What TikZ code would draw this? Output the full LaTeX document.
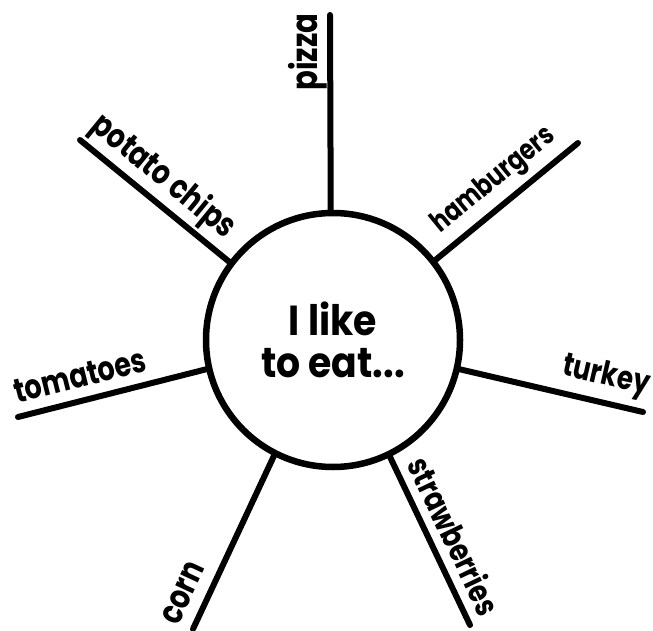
\documentclass[tikz,border=0pt]{standalone}
\usepackage{fontspec}
\setmainfont{Poppins}
\newcommand\lblfit[2]{\resizebox{#1}{!}{\scalebox{0.8}[1]{#2}}}
\begin{document}
\begin{tikzpicture}[x=1pt,y=-1pt,
  spoke/.style={line width=6pt, line cap=round},
  lbl/.style={inner sep=0pt, font=\bfseries}]
\useasboundingbox (0,0) rectangle (653,631);
\node[circle, draw, line width=6.5pt, minimum size=254pt, inner sep=0pt, align=center,
  font=\fontsize{42}{42}\selectfont\bfseries] (c) at (333,340)
  {\scalebox{0.9}[1]{I like}\\\scalebox{0.9}[1]{to eat...}};
% outer ends
\coordinate (epz) at (330,15);
\coordinate (ehb) at (578,143);
\coordinate (etk) at (643,412);
\coordinate (est) at (470,625);
\coordinate (eco) at (193,629);
\coordinate (eto) at (18,417);
\coordinate (epc) at (80,140);
% spokes
\draw[spoke] (c.91.4) -- (epz);
\draw[spoke] (c.38.1) -- (ehb);
\draw[spoke] (c.-13.3) -- (etk);
\draw[spoke] (c.-64.2) -- (est);
\draw[spoke] (c.243) -- (eco);
\draw[spoke] (c.193.4) -- (eto);
\draw[spoke] (c.143.2) -- (epc);
% labels
\node[lbl, rotate=90] (tpz) at (308,52) {\lblfit{77pt}{pizza}};
\node[lbl, rotate=39.3] (thb) at (494,181) {\lblfit{150pt}{hamburgers}};
\node[lbl, rotate=-12.9] (ttk) at (606,377) {\lblfit{88pt}{turkey}};
\node[lbl, rotate=-64.4] (tst) at (455,536) {\lblfit{170pt}{strawberries}};
\node[lbl, rotate=65] (tco) at (183,593) {\lblfit{65pt}{corn}};
\node[lbl, rotate=14] (tto) at (80,376) {\lblfit{135pt}{tomatoes}};
\node[lbl, rotate=-39.4] (tpc) at (163,177) {\lblfit{175pt}{potato chips}};
\end{tikzpicture}
\end{document}
